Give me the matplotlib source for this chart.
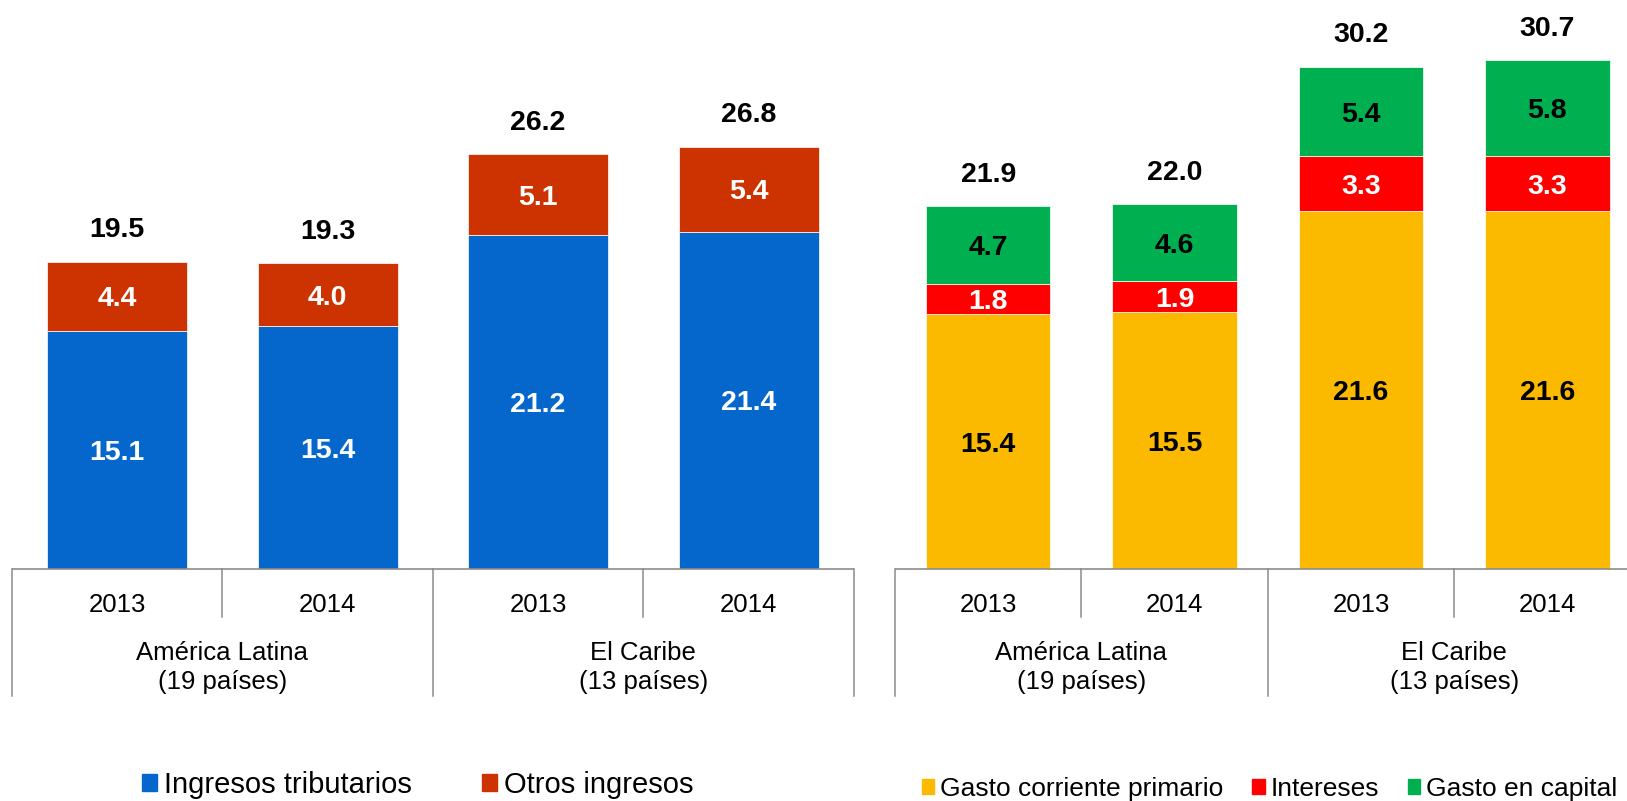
import matplotlib
matplotlib.use("Agg")
import matplotlib.pyplot as plt
import matplotlib.transforms as mtransforms
from matplotlib.patches import Patch

plt.rcParams['font.family'] = ['Liberation Sans', 'DejaVu Sans']

# ---------------- data ----------------
years = ['2013', '2014', '2013', '2014']
groups = ['América Latina', 'El Caribe']
group_counts = ['(19 países)', '(13 países)']

ing_trib = [15.1, 15.4, 21.2, 21.4]
otros_ing = [4.4, 4.0, 5.1, 5.4]
ing_total = [19.5, 19.3, 26.2, 26.8]

gasto_corr = [15.4, 15.5, 21.6, 21.6]
intereses = [1.8, 1.9, 3.3, 3.3]
gasto_cap = [4.7, 4.6, 5.4, 5.8]
gasto_total = [21.9, 22.0, 30.2, 30.7]

labels_left = ['Ingresos tributarios', 'Otros ingresos']
labels_right = ['Gasto corriente primario', 'Intereses', 'Gasto en capital']

# ---------------- style ----------------
C_BLUE = '#0566CC'
C_ORANGE = '#CC3300'
C_YELLOW = '#FBBA00'
C_RED = '#FF0000'
C_GREEN = '#00B050'
GRAY = '#8C8C8C'

W, H = 1627, 801
fig = plt.figure(figsize=(W / 100, H / 100), dpi=100)


def fy(ypx):
    return (H - ypx) / H


def make_axes(x0, x1, ybase, ppu):
    ax = fig.add_axes([x0 / W, (H - ybase) / H, (x1 - x0) / W, ybase / H])
    ax.set_xlim(-0.5, 3.5)
    ax.set_ylim(0, ybase / ppu)
    ax.axis('off')
    return ax


def category_axis(ax, ybase):
    tr = mtransforms.blended_transform_factory(ax.transData, fig.transFigure)
    ax.plot([-0.5, 3.5], [fy(ybase)] * 2, transform=tr, color=GRAY, lw=1.2,
            clip_on=False, solid_capstyle='butt')
    for xb in [-0.5, 1.5, 3.5]:
        ax.plot([xb, xb], [fy(ybase), fy(696)], transform=tr, color=GRAY,
                lw=1.1, clip_on=False)
    for xb in [0.5, 2.5]:
        ax.plot([xb, xb], [fy(ybase), fy(617)], transform=tr, color=GRAY,
                lw=1.1, clip_on=False)
    for i, y in enumerate(years):
        ax.text(i, fy(611.5), y, transform=tr, ha='center', va='baseline',
                fontsize=18.5, color='black')
    for g, (name, cnt) in enumerate(zip(groups, group_counts)):
        xc = 0.5 + 2 * g
        ax.text(xc, fy(659.5), name, transform=tr, ha='center', va='baseline',
                fontsize=18.5)
        ax.text(xc, fy(689.5), cnt, transform=tr, ha='center', va='baseline',
                fontsize=18.5)


def seg_label(ax, x, ymid, val, color):
    ax.annotate(f'{val:.1f}', (x, ymid), xytext=(0, -7.3),
                textcoords='offset points', ha='center', va='baseline',
                fontsize=20.5, fontweight='bold', color=color)


def total_label(ax, x, ytop, val):
    ax.annotate(f'{val:.1f}', (x, ytop), xytext=(0, 17.6),
                textcoords='offset points', ha='center', va='baseline',
                fontsize=20.5, fontweight='bold', color='black')


xs = list(range(len(years)))

# ---------------- left panel: ingresos ----------------
axL = make_axes(11.7, 854.0, 568.7, 15.75)
axL.bar(xs, ing_trib, width=0.665, color=C_BLUE, edgecolor='white', linewidth=0.5)
axL.bar(xs, otros_ing, width=0.665, bottom=ing_trib, color=C_ORANGE,
        edgecolor='white', linewidth=0.5)
for i in xs:
    seg_label(axL, i, ing_trib[i] / 2, ing_trib[i], 'white')
    seg_label(axL, i, ing_trib[i] + otros_ing[i] / 2, otros_ing[i], 'white')
    total_label(axL, i, ing_trib[i] + otros_ing[i], ing_total[i])
category_axis(axL, 568.7)

# ---------------- right panel: gastos ----------------
axR = make_axes(895.0, 895.0 + 4 * 186.4, 569.3, 16.59)
b2 = [a + b for a, b in zip(gasto_corr, intereses)]
axR.bar(xs, gasto_corr, width=0.667, color=C_YELLOW, edgecolor='white', linewidth=0.5)
axR.bar(xs, intereses, width=0.667, bottom=gasto_corr, color=C_RED,
        edgecolor='white', linewidth=0.5)
axR.bar(xs, gasto_cap, width=0.667, bottom=b2, color=C_GREEN,
        edgecolor='white', linewidth=0.5)
for i in xs:
    seg_label(axR, i, gasto_corr[i] / 2, gasto_corr[i], 'black')
    seg_label(axR, i, gasto_corr[i] + intereses[i] / 2, intereses[i], 'white')
    seg_label(axR, i, b2[i] + gasto_cap[i] / 2, gasto_cap[i], 'black')
    total_label(axR, i, b2[i] + gasto_cap[i], gasto_total[i])
category_axis(axR, 569.3)

# ---------------- legends ----------------
fs_l = 21
fig.legend(handles=[Patch(color=C_BLUE), Patch(color=C_ORANGE)],
           labels=labels_left, loc='center left',
           bbox_to_anchor=(142 / W, fy(785)), ncol=2, frameon=False,
           fontsize=fs_l, handlelength=0.51, handleheight=0.51,
           handletextpad=0.24, columnspacing=2.4, borderpad=0, borderaxespad=0)

fs_r = 19
fig.legend(handles=[Patch(color=C_YELLOW), Patch(color=C_RED), Patch(color=C_GREEN)],
           labels=labels_right, loc='center left',
           bbox_to_anchor=(922 / W, fy(789)), ncol=3, frameon=False,
           fontsize=fs_r, handlelength=0.46, handleheight=0.46,
           handletextpad=0.23, columnspacing=1.1, borderpad=0, borderaxespad=0)

fig.savefig('out.png', dpi=100)
